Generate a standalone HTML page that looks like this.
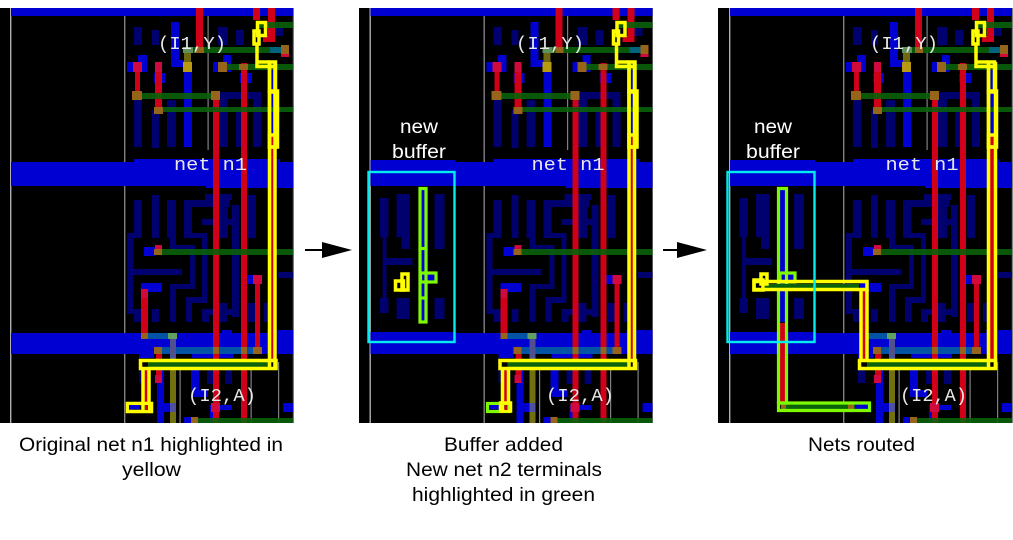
<!DOCTYPE html>
<html><head><meta charset="utf-8"><style>
html,body{margin:0;padding:0;background:#fff;width:1013px;height:540px;overflow:hidden}
svg{display:block}
.b{fill:#0000d2}.d{fill:#00006e}.r{fill:#d00018}.g{fill:#0a620a}.p{fill:#96641a}.t{fill:#00689a}.l{fill:#808080}.pr{fill:#d00a3c}
.y{fill:none;stroke:#ffff00;stroke-width:3.5}.n{fill:none;stroke:#7dfa00;stroke-width:3.2}
.m{font-family:"Liberation Mono",monospace;font-size:18px;fill:#e8e8e8}
.s{font-family:"Liberation Sans",sans-serif;font-size:19.5px}
</style></head><body>
<svg width="1013" height="540" viewBox="0 0 1013 540" xmlns="http://www.w3.org/2000/svg">
<defs>
<g id="base">
<rect x="-2" y="0" width="300" height="430" fill="#000"/>
<!-- grid lines -->
<rect x="10" y="8" width="1.4" height="416" fill="#b0b0b0"/>
<rect x="124" y="8" width="1.4" height="416" class="l"/>
<rect x="207.500" y="8" width="1.2" height="142" class="l"/>
<rect x="179.500" y="362" width="1.200" height="62" class="l"/>
<rect x="250.500" y="362" width="1.200" height="62" class="l"/>
<rect x="278" y="362" width="1.200" height="62" class="l"/>
<rect x="292.800" y="8" width="1.400" height="416" class="l"/>
<!-- dark wires -->
<g class="d">
<rect x="134" y="27" width="8" height="18"/><rect x="152" y="30" width="7" height="15"/><rect x="218" y="27" width="10" height="18"/><rect x="236" y="30" width="8" height="15"/><rect x="275" y="27" width="8" height="9"/>
<rect x="134" y="100" width="8" height="47"/><rect x="152" y="110" width="7" height="38"/><rect x="167" y="100" width="9" height="47"/><rect x="219" y="92" width="9" height="55"/><rect x="219" y="92" width="42" height="7"/><rect x="236" y="110" width="8" height="37"/><rect x="253" y="92" width="8" height="55"/>
<rect x="134" y="200" width="8" height="38"/><rect x="152" y="195" width="7" height="43"/><rect x="167" y="200" width="9" height="38"/><rect x="184" y="205" width="8" height="33"/><rect x="184" y="200" width="46" height="7"/><rect x="205" y="194" width="27" height="6"/><rect x="218" y="205" width="10" height="33"/><rect x="248" y="195" width="8" height="43"/>
<rect x="127" y="233" width="15" height="5"/><rect x="127" y="233" width="6" height="80"/><rect x="127" y="309" width="14" height="5"/><rect x="134" y="309" width="7" height="13"/><rect x="128" y="269" width="54" height="6"/>
<rect x="170" y="238" width="6" height="12"/><rect x="170" y="245" width="25" height="5"/><rect x="190" y="245" width="5" height="44"/><rect x="170" y="284" width="25" height="5"/><rect x="170" y="284" width="6" height="38"/>
<rect x="184" y="233" width="23" height="5"/><rect x="202" y="233" width="5" height="70"/><rect x="186" y="297" width="21" height="6"/><rect x="186" y="297" width="6" height="25"/><rect x="152" y="309" width="7" height="13"/>
<rect x="202" y="309" width="31" height="6"/><rect x="202" y="309" width="7" height="13"/><rect x="202" y="219" width="31" height="6"/><rect x="232" y="205" width="7" height="112"/><rect x="248" y="303" width="8" height="19"/><rect x="278" y="272" width="15" height="6"/><rect x="264" y="303" width="5" height="19"/><rect x="219" y="303" width="8" height="19"/>
<rect x="207" y="370" width="6" height="14"/><rect x="225" y="370" width="7" height="14"/><rect x="139" y="370" width="7" height="13"/>
</g>
<!-- bright blue -->
<g class="b">
<rect x="11" y="8" width="282" height="8"/>
<rect x="171" y="22" width="8" height="44"/><rect x="171" y="60" width="16" height="7"/><rect x="138" y="55" width="9" height="17"/><rect x="127" y="62" width="15" height="10"/><rect x="154" y="73" width="11" height="10"/><rect x="184" y="72" width="8" height="75"/><rect x="223" y="55" width="8" height="17"/><rect x="213" y="62" width="14" height="10"/><rect x="240" y="73" width="12" height="10"/><rect x="271" y="62" width="5" height="82"/>
<rect x="11" y="162" width="282" height="24"/><rect x="134" y="159" width="146" height="4"/><rect x="206" y="186" width="87" height="2"/>
<rect x="11" y="333" width="282" height="21"/><rect x="222" y="330" width="10" height="4"/><rect x="267" y="330" width="26" height="4"/><rect x="192" y="354" width="41" height="4"/><rect x="139" y="354" width="15" height="4"/>
<rect x="144" y="247" width="11" height="9"/><rect x="141" y="283" width="21" height="9"/><rect x="246" y="275" width="7" height="9"/>
<rect x="157" y="370" width="7" height="53"/><rect x="191" y="370" width="8" height="20"/><rect x="191" y="390" width="17" height="7"/><rect x="212" y="405" width="20" height="5"/><rect x="210" y="405" width="5" height="18"/><rect x="283" y="403" width="10" height="9"/><rect x="160" y="403" width="16" height="9"/><rect x="184" y="417" width="8" height="6"/>
</g>
<!-- red -->
<g class="r">
<rect x="196" y="8" width="7" height="39"/><rect x="253" y="8" width="7" height="12"/><rect x="268" y="8" width="7" height="34"/><rect x="263" y="36" width="12" height="6"/>
<rect x="213" y="95" width="6" height="328"/><rect x="241" y="63" width="6" height="360"/><rect x="135" y="72" width="5" height="23"/><rect x="155" y="62" width="7" height="48"/>
<rect x="141" y="289" width="7" height="44"/><rect x="255" y="284" width="5" height="63"/><rect x="156" y="354" width="6" height="29"/>
</g>
<g class="pr"><rect x="133" y="62" width="9" height="10"/><rect x="141" y="289" width="7" height="9"/><rect x="253" y="275" width="9" height="9"/><rect x="155" y="375" width="7" height="8"/><rect x="211" y="403" width="9" height="9"/><rect x="155" y="62" width="7" height="10"/><rect x="281" y="52" width="8" height="5"/><rect x="155" y="245" width="7" height="5"/></g>
<!-- green, teal -->
<g fill="#0a620a" fill-opacity=".9">
<rect x="183" y="47" width="102" height="6"/><rect x="256" y="22" width="37" height="6"/><rect x="227" y="64" width="66" height="6"/>
<rect x="142" y="93" width="71" height="6"/><rect x="162" y="107" width="131" height="5"/><rect x="162" y="249" width="131" height="6"/><rect x="198" y="418" width="95" height="5"/>
</g>
<g class="t" fill-opacity=".8"><rect x="148" y="333" width="20" height="6"/><rect x="154" y="347" width="108" height="7"/><rect x="270" y="47" width="12" height="6"/></g>
<rect x="170" y="339" width="6" height="23" fill="#505090"/><rect x="170" y="362" width="6" height="61" fill="#707010"/>
<rect x="168" y="333" width="9" height="6" fill="#60a060"/><rect x="183" y="47" width="10" height="6" fill="#60905a"/>
<!-- pads -->
<g class="p"><rect x="132" y="91" width="10" height="9"/><rect x="211" y="91" width="9" height="9"/><rect x="154" y="107" width="9" height="7"/><rect x="218" y="62" width="9" height="10"/><rect x="239" y="64" width="9" height="6"/><rect x="281" y="45" width="8" height="9"/><rect x="196" y="47" width="8" height="6"/><rect x="154" y="249" width="8" height="6"/><rect x="141" y="333" width="7" height="6"/><rect x="154" y="347" width="8" height="7"/><rect x="253" y="347" width="9" height="7"/><rect x="191" y="417" width="7" height="6"/><rect x="213" y="347" width="6" height="7"/><rect x="241" y="347" width="6" height="7"/></g>
<rect x="183" y="62" width="9" height="10" fill="#b89a10"/><rect x="184" y="53" width="7" height="9" fill="#706810"/>
<rect x="170" y="403" width="6" height="9" fill="#5050a0"/>
<!-- top yellow net -->
<g class="y"><rect x="257.500" y="22.500" width="8" height="13"/><rect x="254" y="31" width="5" height="13"/><path d="M257 44V66.500H275.500M257 62H269"/><rect x="269.500" y="62" width="6" height="30"/></g>
</g>
</defs>

<!-- panel 1 -->
<svg x="0" y="8" width="293.800" height="415" viewBox="0 8 293.800 415"><use href="#base"/>
<rect x="271" y="136" width="4" height="224" fill="#d00018"/><rect x="148" y="362" width="120" height="5" fill="#0a620a"/><rect x="144" y="369" width="4" height="36" fill="#d00018"/>
<g class="y"><path d="M269.500 62V369"/><path d="M275 62V369"/><rect x="269.500" y="91" width="8" height="56"/><rect x="269.500" y="135" width="6" height="12"/><rect x="140.500" y="360.500" width="135.500" height="8"/><path d="M143 368V411M149 368V411"/></g>
<rect x="127.500" y="403.500" width="24" height="8" fill="none" stroke="#ff0" stroke-width="3.500"/><rect x="129" y="405" width="11" height="4.500" fill="#0000d2"/><rect x="145" y="405" width="3" height="5" fill="#d00018"/>
</svg>

<!-- panel 2 -->
<svg x="359" y="8" width="294" height="415" viewBox="-0.500 8 294 415"><use href="#base"/>
<g class="b"><rect x="11" y="160" width="85" height="26"/><rect x="11" y="332" width="85" height="22"/><rect x="61" y="190" width="6" height="132"/><rect x="60" y="273" width="17" height="10"/></g>
<g class="d"><rect x="20.500" y="198" width="8.500" height="39"/><rect x="23" y="237" width="4" height="66"/><rect x="20.500" y="298" width="8.500" height="15"/><rect x="37" y="194" width="13.500" height="43"/><rect x="42" y="237" width="8.500" height="12"/><rect x="27" y="258" width="26" height="7"/><rect x="37" y="298" width="13" height="21"/><rect x="75" y="194" width="10" height="55"/><rect x="75" y="298" width="10" height="21"/></g>
<g class="n"><rect x="60.500" y="188.500" width="6" height="60"/><path d="M60.500 249V298M66.500 249V298"/><rect x="60.500" y="298" width="6" height="24"/><rect x="61" y="273" width="15.500" height="9"/></g>
<g class="y"><rect x="36" y="281" width="8" height="9"/><rect x="42.500" y="274" width="6" height="16"/></g>
<rect x="271" y="136" width="4" height="224" fill="#d00018"/><rect x="148" y="362" width="120" height="5" fill="#0a620a"/><rect x="144" y="369" width="4" height="36" fill="#d00018"/>
<g class="y"><path d="M269.500 62V369"/><path d="M275 62V369"/><rect x="269.500" y="91" width="8" height="56"/><rect x="269.500" y="135" width="6" height="12"/><rect x="140.500" y="360.500" width="135.500" height="8"/><path d="M143 368V411M149 368V411"/></g>
<rect x="128" y="403.500" width="22" height="8" fill="none" stroke="#7dfa00" stroke-width="3.200"/><rect x="130" y="405" width="10" height="4.500" fill="#0000d2"/>
<path d="M141 403V411H151V403Z" fill="none" stroke="#ff0" stroke-width="3.500"/><rect x="145" y="405" width="3" height="5" fill="#d00018"/>
</svg>

<!-- panel 3 -->
<svg x="718" y="8" width="295" height="415" viewBox="-1 8 295 415"><use href="#base"/>
<g class="b"><rect x="11" y="160" width="85" height="26"/><rect x="11" y="332" width="85" height="22"/><rect x="61" y="190" width="6" height="132"/><rect x="60" y="273" width="17" height="10"/></g>
<g class="d"><rect x="20.500" y="198" width="8.500" height="39"/><rect x="23" y="237" width="4" height="66"/><rect x="20.500" y="298" width="8.500" height="15"/><rect x="37" y="194" width="13.500" height="43"/><rect x="42" y="237" width="8.500" height="12"/><rect x="27" y="258" width="26" height="7"/><rect x="37" y="298" width="13" height="21"/><rect x="75" y="194" width="10" height="55"/><rect x="75" y="298" width="10" height="21"/></g>
<rect x="61" y="323" width="6" height="80" fill="#d00018"/>
<rect x="62" y="404" width="88" height="6" fill="#0a620a"/><rect x="136" y="404" width="14" height="6" fill="#0000d2"/><rect x="62" y="404" width="5" height="6" fill="#96641a"/><rect x="129" y="404" width="6" height="6" fill="#96641a"/>
<g class="n"><path d="M59.500 188.500H67.500V403H59.500Z"/><path d="M59.500 403H150.500V410.500H59.500Z"/><rect x="61" y="273" width="15" height="9"/></g>
<rect x="46" y="284" width="94" height="4" fill="#0a620a"/><rect x="143" y="290" width="4" height="70" fill="#d00018"/>
<rect x="271" y="136" width="4" height="224" fill="#d00018"/><rect x="148" y="362" width="120" height="5" fill="#0a620a"/>
<g class="y"><path d="M269.500 62V369"/><path d="M276.500 62V369"/><rect x="269.500" y="91" width="8" height="56"/><rect x="269.500" y="135" width="7" height="12"/><rect x="140.500" y="360.500" width="136" height="8"/><rect x="35" y="281.500" width="113" height="8"/><path d="M142 289V361M148 289V361"/><rect x="42" y="274" width="6" height="10"/><rect x="35" y="280" width="9" height="10"/></g>
</svg>

<!-- cyan rects -->
<rect x="368.500" y="172" width="86" height="170" fill="none" stroke="#00eeee" stroke-width="2.400"/>
<rect x="727.500" y="172" width="87" height="170" fill="none" stroke="#00eeee" stroke-width="2.400"/>

<!-- mono labels -->
<g class="m">
<text x="158" y="49" textLength="68" lengthAdjust="spacingAndGlyphs">(I1,Y)</text>
<text x="174" y="170" textLength="73" lengthAdjust="spacingAndGlyphs">net n1</text>
<text x="188" y="401" textLength="68" lengthAdjust="spacingAndGlyphs">(I2,A)</text>
<text x="516" y="49" textLength="68" lengthAdjust="spacingAndGlyphs">(I1,Y)</text>
<text x="531.500" y="170" textLength="73" lengthAdjust="spacingAndGlyphs">net n1</text>
<text x="546" y="401" textLength="68" lengthAdjust="spacingAndGlyphs">(I2,A)</text>
<text x="870" y="49" textLength="68" lengthAdjust="spacingAndGlyphs">(I1,Y)</text>
<text x="885.500" y="170" textLength="73" lengthAdjust="spacingAndGlyphs">net n1</text>
<text x="900" y="401" textLength="67" lengthAdjust="spacingAndGlyphs">(I2,A)</text>
</g>
<!-- new buffer -->
<g class="s" fill="#fff">
<text x="400" y="133" textLength="38" lengthAdjust="spacingAndGlyphs">new</text>
<text x="392" y="158" textLength="54" lengthAdjust="spacingAndGlyphs">buffer</text>
<text x="754" y="133" textLength="38" lengthAdjust="spacingAndGlyphs">new</text>
<text x="746" y="158" textLength="54" lengthAdjust="spacingAndGlyphs">buffer</text>
</g>
<!-- captions -->
<g class="s" fill="#000">
<text x="19" y="451" textLength="264" lengthAdjust="spacingAndGlyphs">Original net n1 highlighted in</text>
<text x="122" y="476" textLength="59" lengthAdjust="spacingAndGlyphs">yellow</text>
<text x="444" y="451" textLength="119" lengthAdjust="spacingAndGlyphs">Buffer added</text>
<text x="406" y="476" textLength="196" lengthAdjust="spacingAndGlyphs">New net n2 terminals</text>
<text x="412" y="501" textLength="183" lengthAdjust="spacingAndGlyphs">highlighted in green</text>
<text x="808" y="451" textLength="107" lengthAdjust="spacingAndGlyphs">Nets routed</text>
</g>
<!-- arrows -->
<g fill="#000"><rect x="305" y="249" width="20" height="2"/><path d="M322 242L352 250L322 258Z"/>
<rect x="663" y="249" width="20" height="2"/><path d="M677 242L707 250L677 258Z"/></g>
</svg>
</body></html>
